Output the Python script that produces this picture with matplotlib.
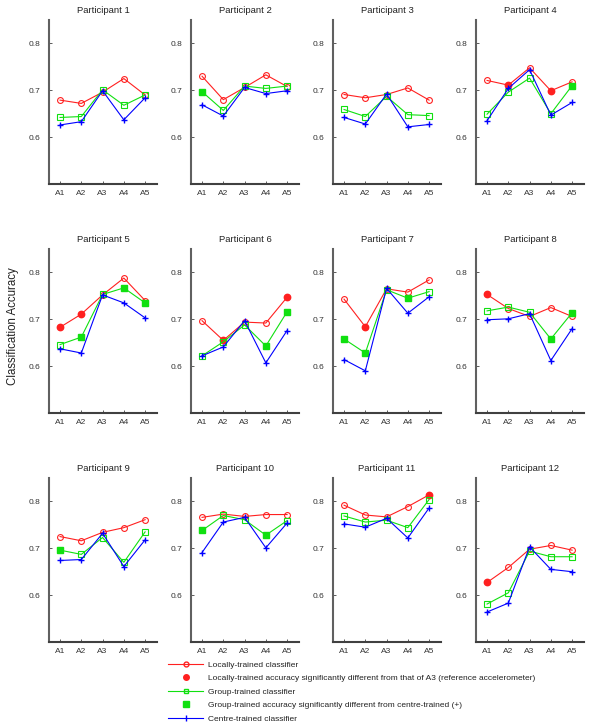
import matplotlib
matplotlib.use("Agg")
import matplotlib.pyplot as plt
from matplotlib.lines import Line2D
import numpy as np

plt.rcParams['font.family'] = ['Liberation Sans', 'DejaVu Sans']

positions = ["A1", "A2", "A3", "A4", "A5"]
participants = [f"Participant {i}" for i in range(1, 13)]

local = [
    [0.679, 0.672, 0.696, 0.725, 0.690],
    [0.730, 0.680, 0.706, 0.733, 0.708],
    [0.691, 0.684, 0.691, 0.705, 0.679],
    [0.721, 0.711, 0.748, 0.699, 0.718],
    [0.683, 0.711, 0.752, 0.788, 0.740],
    [0.697, 0.655, 0.694, 0.692, 0.747],
    [0.743, 0.684, 0.765, 0.758, 0.784],
    [0.753, 0.723, 0.706, 0.725, 0.706],
    [0.725, 0.716, 0.734, 0.744, 0.761],
    [0.766, 0.773, 0.768, 0.772, 0.772],
    [0.792, 0.771, 0.767, 0.789, 0.814],
    [0.627, 0.659, 0.698, 0.706, 0.696],
]
local_sig = [
    [0, 0, 0, 0, 0],
    [0, 0, 0, 0, 0],
    [0, 0, 0, 0, 0],
    [0, 1, 0, 1, 0],
    [1, 1, 0, 0, 0],
    [0, 1, 0, 0, 1],
    [0, 1, 0, 0, 0],
    [1, 0, 0, 0, 0],
    [0, 0, 0, 0, 0],
    [0, 0, 0, 0, 0],
    [0, 0, 0, 0, 1],
    [1, 0, 0, 0, 0],
]
group = [
    [0.642, 0.644, 0.701, 0.668, 0.690],
    [0.697, 0.657, 0.709, 0.704, 0.709],
    [0.659, 0.644, 0.687, 0.648, 0.646],
    [0.649, 0.696, 0.726, 0.650, 0.710],
    [0.646, 0.662, 0.753, 0.767, 0.735],
    [0.622, 0.652, 0.688, 0.643, 0.716],
    [0.658, 0.628, 0.763, 0.745, 0.759],
    [0.718, 0.726, 0.715, 0.658, 0.714],
    [0.696, 0.687, 0.723, 0.670, 0.735],
    [0.738, 0.770, 0.761, 0.728, 0.759],
    [0.769, 0.756, 0.760, 0.744, 0.804],
    [0.581, 0.605, 0.694, 0.682, 0.682],
]
group_sig = [
    [0, 0, 0, 0, 0],
    [1, 0, 0, 0, 0],
    [0, 0, 0, 0, 0],
    [0, 0, 0, 0, 1],
    [0, 1, 0, 1, 1],
    [0, 0, 0, 1, 1],
    [1, 1, 0, 1, 0],
    [0, 0, 0, 1, 1],
    [1, 0, 0, 0, 0],
    [1, 0, 0, 1, 0],
    [0, 0, 0, 0, 0],
    [0, 0, 0, 0, 0],
]
centre = [
    [0.626, 0.633, 0.699, 0.637, 0.684],
    [0.669, 0.645, 0.706, 0.693, 0.699],
    [0.642, 0.628, 0.692, 0.622, 0.627],
    [0.635, 0.704, 0.744, 0.647, 0.674],
    [0.637, 0.628, 0.752, 0.735, 0.703],
    [0.622, 0.641, 0.697, 0.607, 0.676],
    [0.614, 0.590, 0.766, 0.713, 0.748],
    [0.699, 0.701, 0.712, 0.612, 0.680],
    [0.674, 0.676, 0.732, 0.661, 0.718],
    [0.691, 0.756, 0.766, 0.701, 0.754],
    [0.752, 0.745, 0.764, 0.722, 0.786],
    [0.564, 0.583, 0.703, 0.655, 0.650],
]
yticks = [0.6, 0.7, 0.8]
legend_labels = [
    "Locally-trained classifier",
    "Locally-trained accuracy significantly different from that of A3 (reference accelerometer)",
    "Group-trained classifier",
    "Group-trained accuracy significantly different from centre-trained (+)",
    "Centre-trained classifier",
]

RED = "#ff2020"
GREEN = "#10e010"
BLUE = "#0000ff"

W, H = 600, 727
fig = plt.figure(figsize=(W / 100, H / 100), dpi=100)

col_left = [49, 191, 333, 476]
row_top = [20, 249, 478]
aw, ah = 108, 164

x = np.arange(1, 6)
for i in range(12):
    r, c = divmod(i, 4)
    ax = fig.add_axes([col_left[c] / W, 1 - (row_top[r] + ah) / H, aw / W, ah / H])
    for s in ["top", "right"]:
        ax.spines[s].set_visible(False)
    ax.spines["left"].set_color("#606060")
    ax.spines["bottom"].set_color("#404040")
    ax.spines["left"].set_linewidth(1.5)
    ax.spines["bottom"].set_linewidth(1.5)

    ls = np.array(local_sig[i], bool)
    gs = np.array(group_sig[i], bool)
    lv = np.array(local[i])
    gv = np.array(group[i])
    cv = np.array(centre[i])

    ax.plot(x, lv, color=RED, lw=0.8, zorder=2)
    ax.plot(x[~ls], lv[~ls], ls="none", marker="o", ms=4.2, mfc="none", mec=RED, mew=0.8, zorder=3)
    ax.plot(x[ls], lv[ls], ls="none", marker="o", ms=4.6, mfc=RED, mec=RED, zorder=3)

    ax.plot(x, gv, color=GREEN, lw=0.8, zorder=4)
    ax.plot(x[~gs], gv[~gs], ls="none", marker="s", ms=4.2, mfc="none", mec=GREEN, mew=0.8, zorder=5)
    ax.plot(x[gs], gv[gs], ls="none", marker="s", ms=4.6, mfc=GREEN, mec=GREEN, zorder=5)

    ax.plot(x, cv, color=BLUE, lw=0.8, marker="+", ms=5, mew=1.0, zorder=6)

    ax.set_xlim(0.48, 5.56)
    ax.set_ylim(0.5, 0.85)
    ax.set_xticks(x)
    ax.set_xticklabels(positions)
    ax.set_yticks(yticks)
    ax.set_yticklabels([f"{v:.1f}" for v in yticks])
    ax.tick_params(axis="both", direction="in", length=2.5, width=0.6, color="#404040",
                   labelsize=6.0, labelcolor="#333333")
    ax.tick_params(axis="y", pad=6)
    ax.tick_params(axis="x", pad=4)
    ax.set_title(participants[i], fontsize=6.8, color="#222222", pad=5)

fig.text(13 / W, 1 - 326 / H, "Classification Accuracy", rotation=90, ha="center", va="center",
         fontsize=8.3, color="#222222")

handles = [
    Line2D([], [], color=RED, lw=0.8, marker="o", ms=3.5, mfc="none", mec=RED),
    Line2D([], [], ls="none", marker="o", ms=4, color=RED),
    Line2D([], [], color=GREEN, lw=0.8, marker="s", ms=3.5, mfc="none", mec=GREEN),
    Line2D([], [], ls="none", marker="s", ms=4, color=GREEN),
    Line2D([], [], color=BLUE, lw=0.8, marker="|", ms=4, mec=BLUE),
]
leg = fig.legend(handles, legend_labels, loc="upper left", bbox_to_anchor=(168 / W, 1 - 661 / H),
                 frameon=False, fontsize=6.0, handlelength=4.2, handletextpad=0.6,
                 labelspacing=0.68, borderpad=0, borderaxespad=0)
for t in leg.get_texts():
    t.set_color("#222222")

fig.savefig("out.png", dpi=100)
